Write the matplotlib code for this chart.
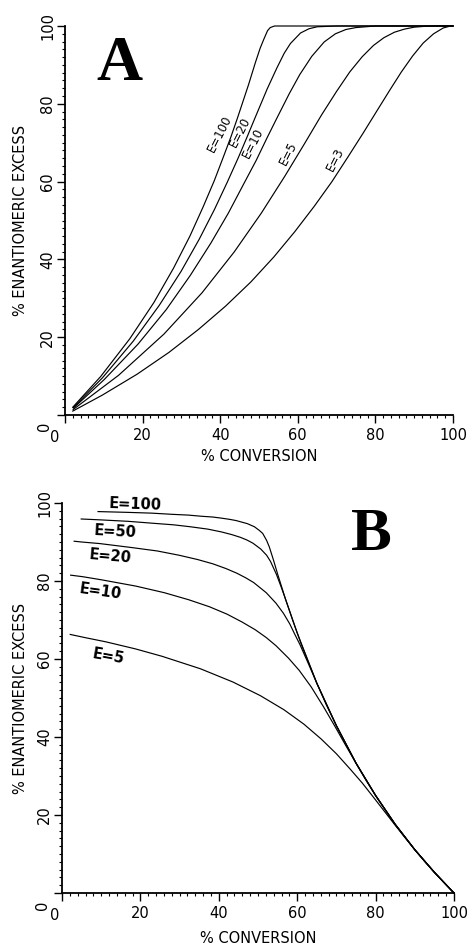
import matplotlib
matplotlib.use("Agg")
import matplotlib.pyplot as plt
from matplotlib.ticker import MultipleLocator, FuncFormatter
import matplotlib.transforms as mtrans

# ---------------- Panel A: ee of remaining substrate ----------------
a_labels = ["E=3", "E=5", "E=10", "E=20", "E=100"]
a_conv_E3 = [2.0, 9.6, 18.6, 26.8, 34.4, 41.4, 47.9, 53.8, 59.2, 64.2, 68.8, 72.9, 76.8,
             80.4, 83.7, 86.7, 89.6, 92.3, 95.0, 97.5, 99.0, 100]
a_ee_E3 = [1.0, 5.1, 10.5, 16.1, 22.0, 28.0, 34.2, 40.6, 47.1, 53.6, 60.0, 66.3, 72.4,
           78.2, 83.5, 88.2, 92.3, 95.6, 98.0, 99.5, 99.9, 100]
a_conv_E5 = [2.1, 13.8, 25.5, 35.3, 43.6, 50.6, 56.6, 61.7, 66.1, 70.0, 73.4, 76.6, 79.5,
             82.2, 84.9, 87.5, 90.0, 92.5, 95.0, 100]
a_ee_E5 = [1.4, 10.2, 20.8, 31.4, 41.9, 51.9, 61.3, 69.7, 77.1, 83.2, 88.2, 92.1, 95.0,
           97.0, 98.4, 99.2, 99.7, 99.9, 100, 100]
a_conv_E10 = [2.2, 10.1, 18.8, 26.1, 32.3, 37.6, 42.1, 45.9, 49.3, 52.1, 54.6, 57.8, 60.5,
              63.6, 66.8, 69.7, 72.4, 75.0, 77.5, 80.0, 100]
a_ee_E10 = [1.8, 9.1, 18.2, 27.1, 35.9, 44.2, 51.9, 59.1, 65.5, 71.3, 76.3, 82.6, 87.5,
            92.2, 95.9, 98.0, 99.1, 99.6, 99.8, 100, 100]
a_conv_E20 = [2.1, 9.6, 17.6, 24.3, 29.9, 34.6, 38.5, 41.8, 44.6, 46.9, 48.9, 52.1, 54.6,
              56.5, 58.1, 60.7, 62.9, 65.0, 70.0, 100]
a_ee_E20 = [1.9, 9.5, 19.0, 28.2, 36.9, 45.2, 52.8, 59.8, 66.0, 71.4, 76.2, 83.8, 89.2,
            93.0, 95.5, 98.2, 99.3, 99.8, 100, 100]
a_conv_E100 = [2.0, 9.2, 16.7, 22.9, 28.0, 32.2, 35.6, 38.5, 40.8, 42.8, 44.4, 47.3, 49.1,
               50.3, 51.2, 52.2, 52.9, 54.0, 100]
a_ee_E100 = [2.0, 9.9, 19.6, 28.9, 37.8, 46.0, 53.5, 60.3, 66.3, 71.6, 76.2, 84.9, 90.7,
             94.3, 96.5, 98.8, 99.6, 100, 100]

# ---------------- Panel B: ee of product ----------------
b_labels = ["E=5", "E=10", "E=20", "E=50", "E=100"]
b_conv_E5 = [2.1, 5.8, 11.2, 18.7, 25.5, 35.3, 43.6, 50.6, 56.6, 61.7, 66.1, 70.0, 73.4,
             76.6, 79.5, 82.2, 84.9, 87.5, 90.0, 92.5, 95.0, 97.5, 100]
b_ee_E5 = [66.3, 65.5, 64.4, 62.6, 60.7, 57.5, 54.1, 50.6, 47.0, 43.3, 39.5, 35.7, 31.9,
           28.2, 24.5, 21.0, 17.5, 14.2, 11.1, 8.1, 5.3, 2.6, 0]
b_conv_E10 = [2.2, 5.3, 10.1, 18.8, 26.1, 32.3, 37.6, 42.1, 45.9, 49.3, 52.1, 54.6, 57.8,
              60.5, 63.6, 66.8, 69.7, 72.4, 75.0, 77.5, 80.0, 85.0, 90.0, 95.0, 100]
b_ee_E10 = [81.5, 81.1, 80.3, 78.7, 77.0, 75.2, 73.4, 71.5, 69.5, 67.5, 65.5, 63.4, 60.2,
            57.1, 52.8, 47.6, 42.6, 37.8, 33.3, 29.0, 25.0, 17.6, 11.1, 5.3, 0]
b_conv_E20 = [3.1, 5.0, 9.6, 17.6, 24.3, 29.9, 34.6, 38.5, 41.8, 44.6, 46.9, 48.9, 52.1,
              54.6, 56.5, 58.1, 59.4, 60.7, 62.9, 65.0, 67.5, 70.0, 75.0, 80.0, 85.0, 90.0,
              95.0, 100]
b_ee_E20 = [90.2, 90.0, 89.6, 88.6, 87.7, 86.6, 85.5, 84.4, 83.2, 82.0, 80.8, 79.6, 77.0,
            74.3, 71.7, 69.0, 66.3, 63.7, 58.7, 53.8, 48.1, 42.9, 33.3, 25.0, 17.6, 11.1,
            5.3, 0]
b_conv_E50 = [4.9, 9.3, 16.9, 23.3, 28.5, 32.8, 37.2, 40.6, 43.3, 45.5, 47.2, 48.7, 50.7,
              52.2, 53.2, 54.7, 55.9, 57.0, 59.0, 61.0, 65.0, 70.0, 75.0, 80.0, 85.0, 90.0,
              95.0, 100]
b_ee_E50 = [95.9, 95.7, 95.3, 94.8, 94.4, 93.9, 93.3, 92.6, 91.9, 91.2, 90.5, 89.7, 88.2,
            86.6, 85.0, 81.7, 78.5, 75.4, 69.5, 63.9, 53.8, 42.9, 33.3, 25.0, 17.6, 11.1,
            5.3, 0]
b_conv_E100 = [9.2, 16.7, 22.9, 28.0, 32.2, 35.6, 38.5, 40.8, 42.8, 44.4, 47.3, 49.1, 50.3,
               51.2, 52.2, 52.9, 54.0, 55.0, 57.0, 60.0, 65.0, 70.0, 75.0, 80.0, 85.0, 90.0,
               95.0, 100]
b_ee_E100 = [97.8, 97.6, 97.4, 97.1, 96.9, 96.6, 96.4, 96.1, 95.8, 95.5, 94.7, 93.9, 93.0,
             92.2, 90.4, 88.7, 85.2, 81.8, 75.4, 66.7, 53.8, 42.9, 33.3, 25.0, 17.6, 11.1,
             5.3, 0]

x_label = "% CONVERSION"
y_label = "% ENANTIOMERIC EXCESS"

plt.rcParams["font.family"] = ["DejaVu Sans"]

fig = plt.figure(figsize=(4.70, 9.48), dpi=100)
W, H = 470.0, 948.0
axA = fig.add_axes([65 / W, 1 - 415 / H, 388 / W, 389 / H])
axB = fig.add_axes([62 / W, 1 - 893 / H, 392 / W, 390 / H])

blank_zero = FuncFormatter(lambda v, p: "" if abs(v) < 1e-9 else "%d" % v)

for ax in (axA, axB):
    ax.set_xlim(0, 100)
    ax.set_ylim(0, 100)
    ax.spines["top"].set_visible(False)
    ax.spines["right"].set_visible(False)
    for s in ("left", "bottom"):
        ax.spines[s].set_linewidth(1.3)
    for axis in (ax.xaxis, ax.yaxis):
        axis.set_major_locator(MultipleLocator(20))
        axis.set_minor_locator(MultipleLocator(2))
        axis.set_major_formatter(blank_zero)
    ax.tick_params(which="major", direction="out", length=5.5, width=1.0,
                   labelsize=10.5, color="black")
    ax.tick_params(axis="x", which="major", pad=4)
    ax.tick_params(axis="y", which="major", pad=1.5)
    ax.tick_params(which="minor", direction="out", length=2.2, width=0.8)
    plt.setp(ax.get_yticklabels(), rotation=90, va="center")
    ax.set_xlabel(x_label, fontsize=10.5)
    ax.set_ylabel(y_label, fontsize=10.5)
    ax.set_facecolor("white")

axA.xaxis.set_label_coords(0.5, -0.087)
axA.yaxis.set_label_coords(-0.095, 0.5)
axB.xaxis.set_label_coords(0.5, -0.097)
axB.yaxis.set_label_coords(-0.087, 0.5)

# the corner zeros, drawn offset from the origin like in the original
for ax, (yx, yy), (xx, xy) in ((axA, (-21, -11), (-10, -23)),
                               (axB, (-19, -12), (-7, -23))):
    tr_y = ax.transData + mtrans.ScaledTranslation(yx / 100, yy / 100, fig.dpi_scale_trans)
    tr_x = ax.transData + mtrans.ScaledTranslation(xx / 100, xy / 100, fig.dpi_scale_trans)
    ax.text(0, 0, "0", transform=tr_y, rotation=90, ha="center", va="center",
            fontsize=10.5, clip_on=False)
    ax.text(0, 0, "0", transform=tr_x, ha="center", va="center",
            fontsize=10.5, clip_on=False)

lw = 0.85
a_series = [(a_conv_E3, a_ee_E3), (a_conv_E5, a_ee_E5), (a_conv_E10, a_ee_E10),
            (a_conv_E20, a_ee_E20), (a_conv_E100, a_ee_E100)]
for xs, ys in a_series:
    axA.plot(xs, ys, color="black", lw=lw, clip_on=False, solid_joinstyle="round")

b_series = [(b_conv_E5, b_ee_E5), (b_conv_E10, b_ee_E10), (b_conv_E20, b_ee_E20),
            (b_conv_E50, b_ee_E50), (b_conv_E100, b_ee_E100)]
for xs, ys in b_series:
    axB.plot(xs, ys, color="black", lw=lw, clip_on=False, solid_joinstyle="round")

# curve labels, panel A (rotated along the curves)
a_label_pos = [(69.7, 65.6), (57.5, 67.3), (48.5, 69.9), (45.2, 72.8), (40.0, 72.2)]
for txt, (lx, ly) in zip(a_labels, a_label_pos):
    axA.text(lx, ly, txt, rotation=63, ha="center", va="center", fontsize=8.5)

# curve labels, panel B
b_label_pos = [(11.8, 60.8, -10), (9.7, 77.2, -8), (12.3, 86.4, -5), (13.6, 92.6, -3),
               (18.7, 99.7, -2)]
for txt, (lx, ly, rot) in zip(b_labels, b_label_pos):
    axB.text(lx, ly, txt, rotation=rot, ha="center", va="center", fontsize=10.5,
             fontweight="bold", clip_on=False)

axA.text(14, 90, "A", fontsize=46, fontweight="bold", family="Liberation Serif",
         ha="center", va="center")
axB.text(79, 91.8, "B", fontsize=44, fontweight="bold", family="Liberation Serif",
         ha="center", va="center")

fig.savefig("out.png", dpi=100, facecolor="white")
